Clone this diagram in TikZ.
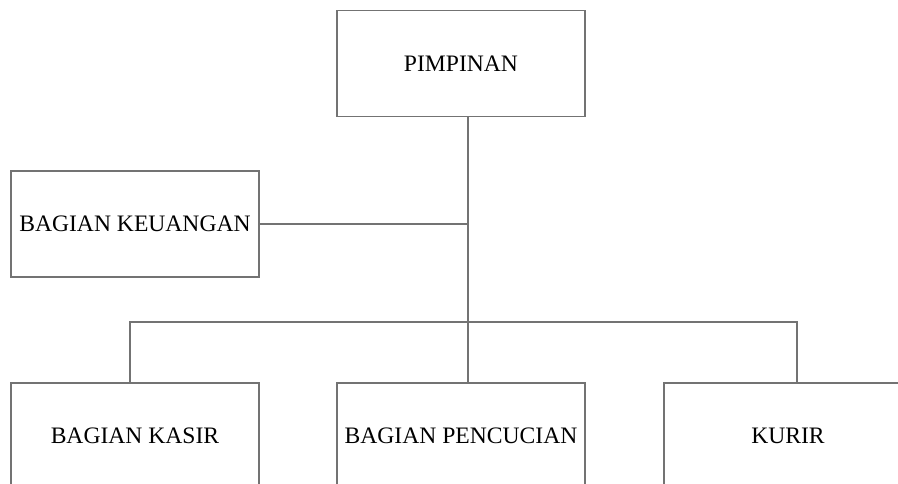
\documentclass[tikz,border=0pt]{standalone}
\usepackage{fontspec}
\setmainfont{Liberation Serif}
\usepackage{tikz}
\usepackage{xcolor}

\begin{document}
\begin{tikzpicture}[x=1pt, y=-1pt,
    unit/.style={draw=black!55, line width=1.1pt, fill=white, minimum width=248pt,
      minimum height=106pt, inner sep=0pt, font=\fontsize{23.6}{28}\selectfont},
    link/.style={draw=black!55, line width=1.1pt}]
  % Page frame, the bottom row runs past it
  \clip (0,0) rectangle (898,483);

  % Boxes of the chart
  \node[unit] (pimpinan) at (461,63.5) {PIMPINAN};
  \node[unit] (keuangan) at (135,224) {BAGIAN KEUANGAN};
  \node[unit] (kasir) at (135,436) {BAGIAN KASIR};
  \node[unit] (pencucian) at (461,436) {BAGIAN PENCUCIAN};
  \node[unit] (kurir) at (788,436) {KURIR};

  % Joints on the spine
  \coordinate (bus) at (468,322);

  % Connecting lines
  \draw[link] ([xshift=7pt]pimpinan.south) -- (bus);
  \draw[link] (keuangan.east) -- (keuangan.east -| bus);
  \draw[link] ([xshift=-5pt]kasir.north) |- (bus) -| ([xshift=9pt]kurir.north);
  \draw[link] ([xshift=7pt]pencucian.north) -- (bus);
\end{tikzpicture}
\end{document}
